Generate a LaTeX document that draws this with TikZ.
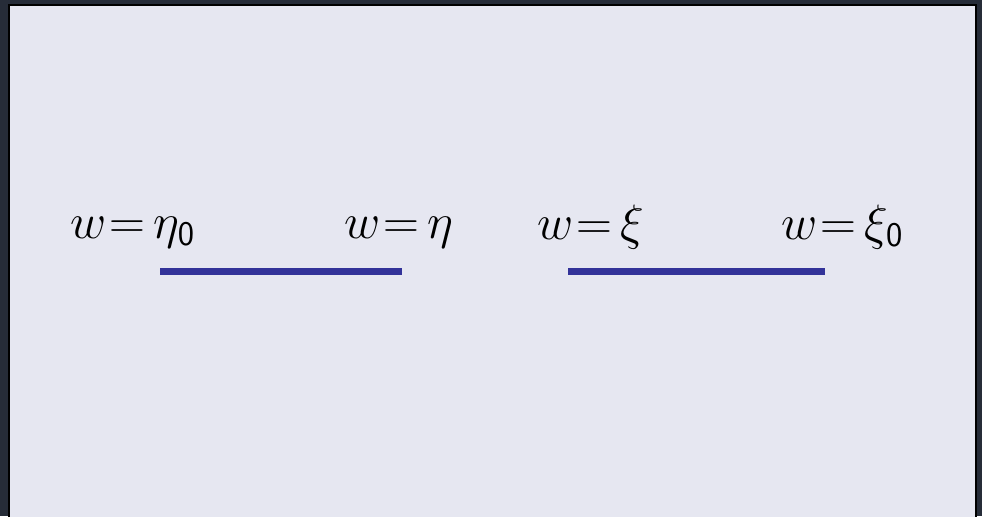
\documentclass[tikz,border=0pt]{standalone}
\usepackage{amsmath}
\definecolor{slidebg}{HTML}{262C38}
\definecolor{panel}{HTML}{E6E7F1}
\definecolor{barblue}{HTML}{333399}
\newcommand{\eqsign}{\mkern1mu{=}\mkern3mu}

\begin{document}
\begin{tikzpicture}[x=0.5pt, y=-0.5pt, thick,
    lbl/.style = {anchor=base west, inner sep=0pt, font=\fontsize{23}{28}\selectfont},
    bar/.style = {line width=3.6pt, barblue}]
        \useasboundingbox (0,0) rectangle (982,516);
        \clip (0,0) rectangle (982,516);
        \fill[slidebg] (0,0) rectangle (982,516);
        \draw[line width=1pt, fill=panel] (9,5) rectangle (976,540);
        \node[lbl] (1) at (70,238) {$w\eqsign\eta_{\mathsf{0}}$};
        \node[lbl] (2) at (344,238) {$w\eqsign\eta$};
        \node[lbl] (3) at (537,239) {$w\eqsign\xi$};
        \node[lbl] (4) at (781,239) {$w\eqsign\xi_{\mathsf{0}}$};
        \coordinate (a) at (160,271.5);
        \coordinate (b) at (402,271.5);
        \coordinate (c) at (568,271.5);
        \coordinate (d) at (825,271.5);
        \draw[bar] (a) -- (b);
        \draw[bar] (c) -- (d);
    \end{tikzpicture}
\end{document}
